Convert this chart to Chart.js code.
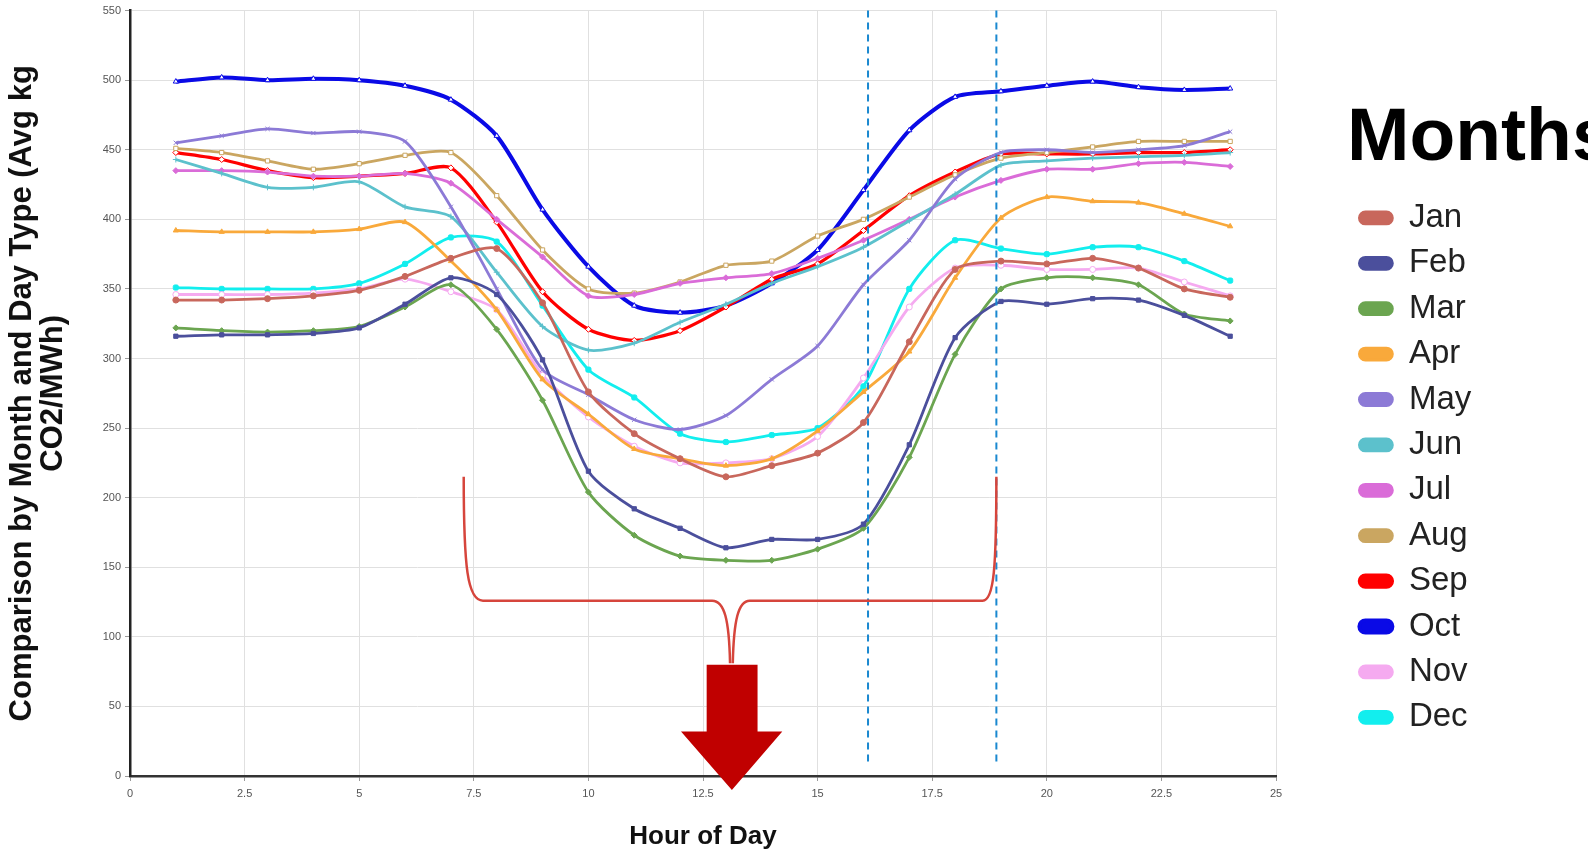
<!DOCTYPE html>
<html>
<head>
<meta charset="utf-8">
<title>Hour of Day comparison</title>
<script src="https://cdn.jsdelivr.net/npm/chart.js@4.4.1/dist/chart.umd.min.js"></script>
<style>
    html, body { margin: 0; padding: 0; background: #ffffff; }
    canvas { display: block; }
</style>
</head>
<body>
<canvas id="my_chart" width="1588" height="855"></canvas>
<script>
// hours of the day (x values)
let hours = [1, 2, 3, 4, 5, 6, 7, 8, 9, 10, 11, 12, 13, 14, 15, 16, 17, 18, 19, 20, 21, 22, 23, 24]

// avg kg CO2/MWh per month
let jan = [342, 342, 343, 345, 349, 359, 372, 379, 340, 276, 246, 228, 215, 223, 232, 254, 312, 364, 370, 368, 372, 365, 350, 344]
let feb = [316, 317, 317, 318, 322, 339, 358, 346, 299, 219, 192, 178, 164, 170, 170, 181, 238, 315, 341, 339, 343, 342, 331, 316]
let mar = [322, 320, 319, 320, 323, 337, 353, 321, 270, 204, 173, 158, 155, 155, 163, 178, 229, 303, 350, 358, 358, 353, 332, 327]
let apr = [392, 391, 391, 391, 393, 398, 370, 335, 285, 260, 235, 228, 223, 228, 248, 276, 305, 358, 401, 416, 413, 412, 404, 395]
let may = [455, 460, 465, 462, 463, 456, 409, 350, 292, 274, 256, 249, 259, 285, 309, 353, 385, 429, 448, 450, 448, 450, 453, 463]
let jun = [443, 433, 423, 423, 427, 409, 402, 362, 323, 306, 311, 326, 339, 354, 366, 380, 399, 418, 439, 442, 444, 445, 446, 448]
let jul = [435, 435, 434, 431, 431, 433, 426, 400, 373, 345, 346, 354, 358, 361, 372, 385, 400, 416, 428, 436, 436, 440, 441, 438]
let aug = [451, 448, 442, 436, 440, 446, 448, 417, 378, 350, 347, 355, 367, 370, 388, 400, 416, 432, 444, 448, 452, 456, 456, 456]
let sep = [448, 443, 435, 430, 431, 433, 437, 398, 348, 321, 313, 320, 337, 357, 368, 392, 417, 434, 447, 447, 447, 448, 448, 450]
let oct = [499, 502, 500, 501, 500, 496, 486, 460, 407, 366, 338, 333, 338, 354, 378, 421, 464, 488, 492, 496, 499, 495, 493, 494]
let nov = [346, 346, 346, 347, 350, 357, 348, 335, 288, 258, 237, 225, 225, 228, 244, 286, 337, 365, 367, 364, 364, 365, 355, 345]
let dec = [351, 350, 350, 350, 354, 368, 387, 384, 338, 292, 272, 246, 240, 245, 250, 280, 350, 385, 379, 375, 380, 380, 370, 356]

let month_names = ["Jan", "Feb", "Mar", "Apr", "May", "Jun", "Jul", "Aug", "Sep", "Oct", "Nov", "Dec"]
let month_values = [jan, feb, mar, apr, may, jun, jul, aug, sep, oct, nov, dec]

// y and x tick range
let y_min = 0, y_max = 550, y_step = 50
let x_min = 0, x_max = 25, x_step = 2.5

// hour markers (dashed lines), in data units
let dashed_hours = [16.1, 18.9]

let month_colors = ["#c8675c", "#4b4f9c", "#6ba550", "#f9a93b", "#8c7ad6", "#5cc1cc",
    "#da6cd8", "#caa661", "#ff0000", "#0a0ae6", "#f5aaf0", "#12eeee"]
let month_points = ["circle", "rect", "rectRot", "triangle", "crossRot", "cross",
    "rectRot", "rect", "rectRot", "triangle", "circle", "rectRounded"]
let open_points = [false, false, false, false, false, false, false, true, true, true, true, false]

let legend_width = 241

let datasets = []
for (let i = 0; i < month_names.length; i++) {
    let pts = []
    for (let j = 0; j < hours.length; j++) {
        pts.push({ x: hours[j], y: month_values[i][j] })
    }
    let w = 2.8
    if (month_names[i] == "Oct") w = 4
    if (month_names[i] == "Sep") w = 3.3
    datasets.push({
        label: month_names[i],
        data: pts,
        borderColor: month_colors[i],
        backgroundColor: month_colors[i],
        borderWidth: w,
        pointStyle: month_points[i],
        pointRadius: 3,
        pointBorderWidth: 1,
        pointBackgroundColor: open_points[i] ? "#ffffff" : month_colors[i],
        pointBorderColor: month_colors[i],
        tension: 0.25,
        fill: false
    })
}

// legend is wider than its labels so the big title fits
let legend_width_plugin = {
    id: "legend_width",
    beforeLayout(chart) {
        let lg = chart.legend
        if (lg && !lg.wide_fit) {
            let old_fit = lg.fit
            lg.fit = function () {
                old_fit.call(this)
                this.width = legend_width
            }
            lg.wide_fit = true
        }
    }
}

// draws the dashed hour lines, the red bracket and the big arrow
let annotate_plugin = {
    id: "annotate",
    afterDraw(chart) {
        let ctx = chart.ctx
        let xs = chart.scales.x
        let ys = chart.scales.y
        let px = (v) => xs.getPixelForValue(v)
        let py = (v) => ys.getPixelForValue(v)
        ctx.save()

        // dashed blue lines
        ctx.strokeStyle = "#1a88d0"
        ctx.lineWidth = 2
        ctx.setLineDash([7, 5])
        for (let h of dashed_hours) {
            ctx.beginPath()
            ctx.moveTo(px(h), py(550))
            ctx.lineTo(px(h), py(7))
            ctx.stroke()
        }
        ctx.setLineDash([])

        // bracket
        ctx.strokeStyle = "#d6453c"
        ctx.lineWidth = 2.5
        ctx.beginPath()
        ctx.moveTo(px(7.28), py(215))
        ctx.bezierCurveTo(px(7.28), py(150), px(7.36), py(126), px(7.7), py(126))
        ctx.lineTo(px(12.7), py(126))
        ctx.bezierCurveTo(px(12.97), py(126), px(13.07), py(112), px(13.09), py(81))
        ctx.moveTo(px(13.15), py(81))
        ctx.bezierCurveTo(px(13.17), py(112), px(13.27), py(126), px(13.52), py(126))
        ctx.lineTo(px(18.6), py(126))
        ctx.bezierCurveTo(px(18.85), py(126), px(18.9), py(150), px(18.9), py(215))
        ctx.stroke()

        // arrow
        ctx.fillStyle = "#c00000"
        ctx.beginPath()
        ctx.moveTo(px(12.58), py(80))
        ctx.lineTo(px(13.69), py(80))
        ctx.lineTo(px(13.69), py(32))
        ctx.lineTo(px(14.23), py(32))
        ctx.lineTo(px(13.13), py(-10))
        ctx.lineTo(px(12.02), py(32))
        ctx.lineTo(px(12.58), py(32))
        ctx.closePath()
        ctx.fill()
        ctx.restore()
    }
}

let my_chart = document.querySelector("#my_chart")
let tick_font = { family: "'Liberation Sans', Arial", size: 11 }

var myLineChart = new Chart(my_chart, {
    type: "line",
    data: { datasets: datasets },
    plugins: [legend_width_plugin, annotate_plugin],
    options: {
        responsive: false,
        animation: false,
        layout: { padding: { left: 7, top: 10, right: 0, bottom: 0 } },
        plugins: {
            tooltip: { enabled: false },
            legend: {
                position: "right",
                align: "start",
                title: {
                    display: true,
                    text: "Months",
                    position: "start",
                    color: "#000000",
                    font: { family: "'Liberation Sans', Arial", size: 75, weight: "bold" },
                    padding: { top: 92, bottom: -3 }
                },
                labels: {
                    color: "#222222",
                    font: { family: "'Liberation Sans', Arial", size: 33 },
                    boxWidth: 33,
                    boxHeight: 12,
                    padding: 12.4,
                    useBorderRadius: true,
                    borderRadius: 6
                }
            }
        },
        scales: {
            x: {
                type: "linear",
                min: x_min,
                max: x_max,
                ticks: { stepSize: x_step, color: "#555555", font: tick_font, maxRotation: 0, padding: 6 },
                grid: { color: "#e0e0e0", tickColor: "#999999", tickLength: 5 },
                border: { color: "#333333", width: 2.5 },
                title: {
                    display: true,
                    text: "Hour of Day",
                    color: "#111111",
                    font: { family: "'Liberation Sans', Arial", size: 26, weight: "bold", lineHeight: 1.2 },
                    padding: { top: 0, bottom: 3 }
                },
                afterFit: (scale) => { scale.height = 79 }
            },
            y: {
                type: "linear",
                min: y_min,
                max: y_max,
                ticks: { stepSize: y_step, color: "#555555", font: tick_font, padding: 4 },
                grid: { color: "#e0e0e0", tickColor: "#999999", tickLength: 5 },
                border: { color: "#222222", width: 2.5 },
                title: {
                    display: true,
                    text: ["Comparison by Month and Day Type (Avg kg", "CO2/MWh)"],
                    color: "#111111",
                    font: { family: "'Liberation Sans', Arial", size: 31, weight: "bold", lineHeight: 1.0 },
                    padding: { top: 0, bottom: 0 }
                },
                afterFit: (scale) => { scale.width = 123 }
            },
            // empty axis, only keeps the gap between plot and legend
            gap: {
                type: "linear",
                position: "right",
                display: true,
                grid: { display: false },
                border: { display: false },
                ticks: { display: false },
                afterFit: (scale) => { scale.width = 71 }
            }
        }
    }
});
</script>
</body>
</html>
